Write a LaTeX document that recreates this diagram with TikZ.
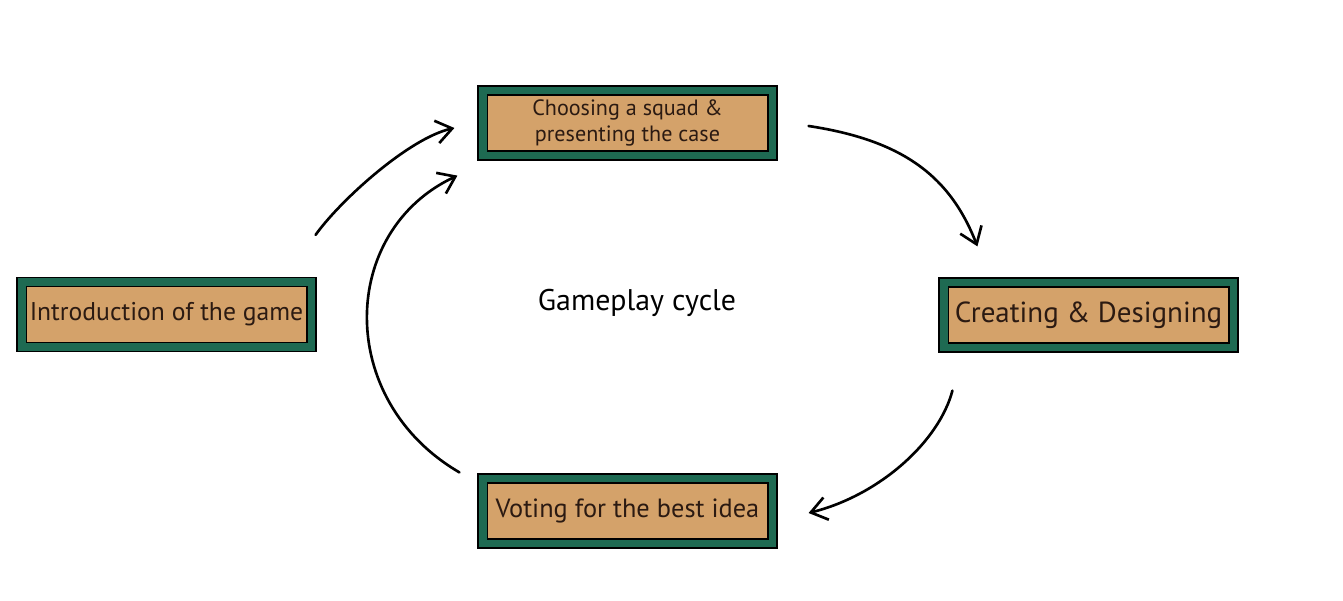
\documentclass[tikz,border=0pt]{standalone}
\usepackage{xcolor}
\usepackage{fontspec}
\setmainfont{PT Sans}
\usetikzlibrary{positioning,arrows.meta,calc}
\definecolor{boxgreen}{HTML}{1E6A52}
\definecolor{boxtan}{HTML}{D4A26A}
\definecolor{txtbrown}{HTML}{2B1A12}
\tikzset{
  stage/.style={rectangle, draw=black, line width=0.7pt, fill=boxgreen,
    minimum width=5.98cm, minimum height=1.48cm, text=txtbrown, align=center,
    inner xsep=2pt, path picture={\draw[fill=boxtan, line width=0.6pt]
      ([xshift=0.18cm,yshift=-0.18cm]path picture bounding box.north west) rectangle
      ([xshift=-0.18cm,yshift=0.18cm]path picture bounding box.south east);}},
  cyc/.style={draw=black, line width=1.5pt, line cap=round,
    -{Straight Barb[length=9pt,width=13pt,line width=1.5pt]}},
  lbl/.style={font=\fontsize{17}{20}\selectfont, text=black}
}
\begin{document}
\begin{tikzpicture}[x=0.02cm, y=-0.02cm]
  \useasboundingbox (0,0) rectangle (1343,601);
  \node[stage, font=\fontsize{14.6}{16}\selectfont] (intro) at (166.5,314.5) {Introduction of the game};
  \node[stage, font=\fontsize{12.6}{14.5}\selectfont] (squad) at (627.5,123) {Choosing a squad \&\\presenting the case};
  \node[stage, font=\fontsize{16.5}{19}\selectfont] (create) at (1088.5,315) {Creating \& Designing};
  \node[stage, font=\fontsize{15}{17}\selectfont] (vote) at (627.5,511) {Voting for the best idea};
  \node[lbl] (cycle) at (637,303) {Gameplay cycle};
  % arrows of the cycle
  \draw[cyc] ($(intro.north east)+(-1,-42)$) .. controls +(25,-35) and +(-45,10) .. ($(squad.west)+(-23,5)$);
  \draw[cyc] ($(vote.north west)+(-18,-1)$) .. controls +(-125,-73) and +(-118,55) .. ($(squad.south west)+(-20,15)$);
  \draw[cyc] ($(squad.east)+(31,3)$) .. controls +(92,14) and +(-28,-72) .. ($(create.north west)+(39,-31)$);
  \draw[cyc] ($(create.south west)+(14,38)$) .. controls +(-13,50) and +(72,-18) .. ($(vote.east)+(31,2)$);
\end{tikzpicture}
\end{document}
